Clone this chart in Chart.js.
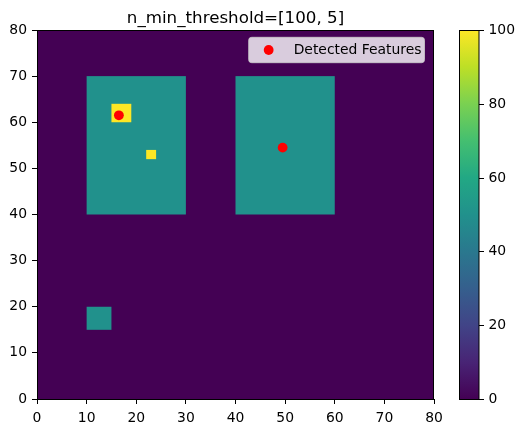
<!DOCTYPE html>
<html>
<head>
<meta charset="utf-8">
<script src="https://cdn.jsdelivr.net/npm/chart.js@4/dist/chart.umd.min.js"></script>
<style>
  html, body { margin: 0; padding: 0; background: #fff; }
  canvas { display: block; }
</style>
</head>
<body>
<canvas id="myChart" width="523" height="433"></canvas>
<script>
// image regions (rectangles in data units) and their values
const regionX0 = [10, 40, 10, 15, 22];
const regionX1 = [30, 60, 15, 19, 24];
const regionY0 = [40, 40, 15, 60, 52];
const regionY1 = [70, 70, 20, 64, 54];
const regionValue = [50, 50, 50, 100, 100];
const backgroundValue = 0;

// detected features
const featureX = [16.5, 49.5];
const featureY = [61.5, 54.5];

const colorbarTicks = [0, 20, 40, 60, 80, 100];
const titleText = "n_min_threshold=[100, 5]";
const legendText = "Detected Features";

const viridis = ["#440154", "#482475", "#414487", "#355f8d", "#2a788e", "#21918c",
                 "#22a884", "#44bf70", "#7ad151", "#bddf26", "#fde725"];

const hexToRgb = (h) => [1, 3, 5].map(i => parseInt(h.substr(i, 2), 16));

const colorFor = (v) => {
  let t = Math.max(0, Math.min(1, v / 100)) * (viridis.length - 1);
  let i = Math.min(Math.floor(t), viridis.length - 2);
  let f = t - i;
  let a = hexToRgb(viridis[i]), b = hexToRgb(viridis[i + 1]);
  let c = a.map((x, k) => Math.round(x + (b[k] - x) * f));
  return "rgb(" + c.join(",") + ")";
};

const FONT = "DejaVu Sans";

const imagePlugin = {
  id: "image",
  beforeDatasetsDraw(chart) {
    const ctx = chart.ctx;
    const xs = chart.scales.x, ys = chart.scales.y;
    const area = chart.chartArea;
    ctx.save();
    ctx.fillStyle = colorFor(backgroundValue);
    ctx.fillRect(area.left, area.top, area.right - area.left, area.bottom - area.top);
    for (let i = 0; i < regionValue.length; i++) {
      const x0 = xs.getPixelForValue(regionX0[i]);
      const x1 = xs.getPixelForValue(regionX1[i]);
      const y0 = ys.getPixelForValue(regionY0[i]);
      const y1 = ys.getPixelForValue(regionY1[i]);
      ctx.fillStyle = colorFor(regionValue[i]);
      ctx.fillRect(x0, y1, x1 - x0, y0 - y1);
    }
    ctx.restore();
  },
  afterDatasetsDraw(chart) {
    const ctx = chart.ctx;
    const area = chart.chartArea;
    ctx.save();
    // frame
    ctx.strokeStyle = "#000";
    ctx.lineWidth = 1;
    ctx.strokeRect(area.left + 0.5, area.top + 0.5, area.right - area.left - 1, area.bottom - area.top);

    // title
    ctx.fillStyle = "#000";
    ctx.font = "16.7px '" + FONT + "'";
    ctx.textAlign = "center";
    ctx.textBaseline = "alphabetic";
    ctx.fillText(titleText, (area.left + area.right) / 2, 23);

    // legend
    ctx.font = "13.9px '" + FONT + "'";
    const tw = ctx.measureText(legendText).width;
    const lr = area.right - 9.5, lt = area.top + 7.3, lh = 25.4;
    const lw = tw + 48;
    const ll = lr - lw;
    ctx.beginPath();
    ctx.roundRect(ll, lt, lw, lh, 3);
    ctx.fillStyle = "rgba(255,255,255,0.8)";
    ctx.fill();
    ctx.strokeStyle = "rgba(204,204,204,0.8)";
    ctx.stroke();
    ctx.beginPath();
    ctx.arc(ll + 20, lt + lh / 2, 4.9, 0, Math.PI * 2);
    ctx.fillStyle = "red";
    ctx.fill();
    ctx.fillStyle = "#000";
    ctx.textAlign = "left";
    ctx.textBaseline = "middle";
    ctx.fillText(legendText, ll + 45, lt + lh / 2 + 0.5);

    // colorbar
    const cb = chart.scales.cb;
    const cx = 459.5, cw = 19.5;
    const yTop = cb.getPixelForValue(100), yBot = cb.getPixelForValue(0);
    const grad = ctx.createLinearGradient(0, yBot, 0, yTop);
    viridis.forEach((c, i) => grad.addColorStop(i / (viridis.length - 1), c));
    ctx.fillStyle = grad;
    ctx.fillRect(cx, yTop, cw, yBot - yTop);
    ctx.strokeStyle = "#000";
    ctx.strokeRect(cx, yTop + 0.5, cw, yBot - yTop);
    ctx.fillStyle = "#000";
    ctx.textAlign = "left";
    ctx.textBaseline = "middle";
    colorbarTicks.forEach(v => {
      const y = Math.round(cb.getPixelForValue(v)) + 0.5;
      ctx.beginPath();
      ctx.moveTo(cx + cw, y);
      ctx.lineTo(cx + cw + 5, y);
      ctx.stroke();
      ctx.fillText(String(v), cx + cw + 9.5, y);
    });
    ctx.restore();
  }
};

const axisCommon = {
  type: "linear",
  min: 0,
  max: 80,
  ticks: { stepSize: 10, color: "#000", font: { family: FONT, size: 13.9 }, maxRotation: 0 },
  grid: { drawOnChartArea: false, color: "#000", tickLength: 5 },
  border: { color: "#000", width: 1 }
};

const ctx = document.getElementById("myChart").getContext("2d");
const myChart = new Chart(ctx, {
  type: "scatter",
  data: {
    datasets: [{
      label: legendText,
      data: featureX.map((x, i) => ({ x: x, y: featureY[i] })),
      backgroundColor: "red",
      borderWidth: 0,
      pointRadius: 4.9,
      pointHoverRadius: 4.9
    }]
  },
  options: {
    responsive: false,
    animation: false,
    layout: { padding: { top: 30, right: 89, left: 0, bottom: 0 } },
    plugins: { legend: { display: false }, title: { display: false }, tooltip: { enabled: false } },
    scales: {
      x: Object.assign({}, axisCommon, {
        position: "bottom",
        ticks: Object.assign({}, axisCommon.ticks, { padding: 6 }),
        afterFit: (s) => { s.height = 34; }
      }),
      y: Object.assign({}, axisCommon, {
        position: "left",
        ticks: Object.assign({}, axisCommon.ticks, { padding: 5 }),
        afterFit: (s) => { s.width = 37; }
      }),
      cb: { type: "linear", display: false, min: 0, max: 100, position: "right" }
    }
  },
  plugins: [imagePlugin]
});
</script>
</body>
</html>
